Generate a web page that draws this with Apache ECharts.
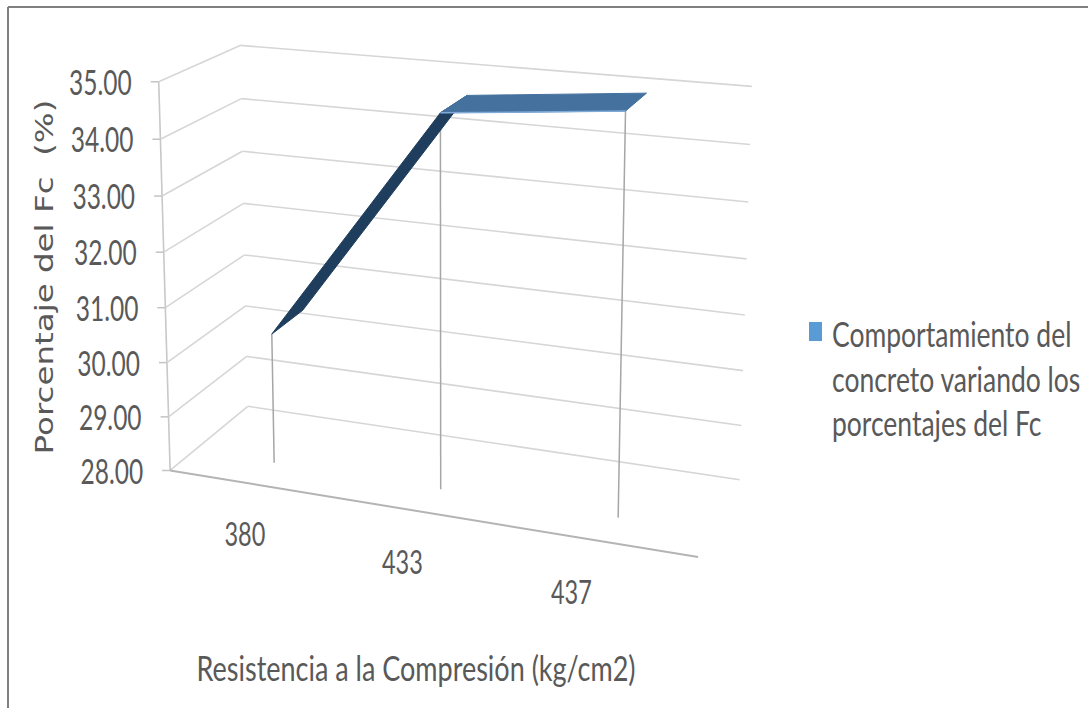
<!DOCTYPE html>
<html>
<head>
<meta charset="utf-8">
<script src="https://cdn.jsdelivr.net/npm/echarts@6.0.0/dist/echarts.min.js"></script>
<style>
html,body{margin:0;padding:0;background:#fff;}
#chart{width:1088px;height:708px;}
</style>
</head>
<body>
<div id="chart"></div>
<script>
// ---------- data ----------
const categories = ['380', '433', '437'];
const values = [30.4, 34.65, 34.95];
const yTicks = [28, 29, 30, 31, 32, 33, 34, 35];
const yMin = 28, yMax = 35, yInterval = 1;
const seriesName = 'Comportamiento del concreto variando los porcentajes del Fc';
const legendLines = ['Comportamiento del', 'concreto variando los', 'porcentajes del Fc'];
const xTitle = 'Resistencia a la Compresión (kg/cm2)';
const yTitle = 'Porcentaje del Fc  (%)';

// ---------- 3D box layout (screen calibration of the plot box corners) ----------
const FL_Y = [470, 416, 363, 307, 253, 197, 138, 82];   // front-left edge
const BL_Y = [406, 357, 307, 255, 203, 152, 98, 45];    // back-left edge
const BR_Y = [480, 425, 370, 315, 258, 202, 145, 87];   // back-right edge
const BR_X = [740, 741, 743, 745, 747, 748, 750, 752];
const FRB = [698, 558];                                 // front-right-bottom corner
const W0 = 0.30, W1 = 0.72;                            // ribbon depth range

function fitProjection() {
  const pts = [];
  for (let k = 0; k < 8; k++) {
    const v = k / 7;
    pts.push([0, v, 0, 170 - 11 * v, FL_Y[k]]);
    pts.push([0, v, 1, 248 - 8 * v, BL_Y[k]]);
    pts.push([1, v, 1, BR_X[k], BR_Y[k]]);
  }
  pts.push([1, 0, 0, FRB[0], FRB[1]]);
  const n = 11;
  const M = [];
  for (let i = 0; i < n; i++) M.push(new Array(n + 1).fill(0));
  const addRow = (row, rhs) => {
    for (let i = 0; i < n; i++) {
      for (let j = 0; j < n; j++) M[i][j] += row[i] * row[j];
      M[i][n] += row[i] * rhs;
    }
  };
  pts.forEach(([X, Y, Z, x, y]) => {
    addRow([X, Y, Z, 1, 0, 0, 0, 0, -x * X, -x * Y, -x * Z], x);
    addRow([0, 0, 0, 0, X, Y, Z, 1, -y * X, -y * Y, -y * Z], y);
  });
  for (let c = 0; c < n; c++) {
    let piv = c;
    for (let r = c + 1; r < n; r++) if (Math.abs(M[r][c]) > Math.abs(M[piv][c])) piv = r;
    const tmp = M[c]; M[c] = M[piv]; M[piv] = tmp;
    for (let r = 0; r < n; r++) {
      if (r === c) continue;
      const f = M[r][c] / M[c][c];
      for (let k = c; k <= n; k++) M[r][k] -= f * M[c][k];
    }
  }
  return M.map((row, i) => row[n] / row[i]);
}
const PM = fitProjection();
function P(X, Y, Z) {
  const w = PM[8] * X + PM[9] * Y + PM[10] * Z + 1;
  return [(PM[0] * X + PM[1] * Y + PM[2] * Z + PM[3]) / w,
          (PM[4] * X + PM[5] * Y + PM[6] * Z + PM[7]) / w];
}
function toUV(cs, pt) {
  return [(pt[0] - cs.x) / cs.width, (cs.y + cs.height - pt[1]) / cs.height];
}
function seg(a, b, color, width, z2) {
  return { type: 'line', z2: z2 || 0, shape: { x1: a[0], y1: a[1], x2: b[0], y2: b[1] },
           style: { stroke: color, lineWidth: width } };
}

const TEXT = '#595959';
const FONT = 'Lato, "Open Sans", sans-serif';
const SY = 1.4;

const chart = echarts.init(document.getElementById('chart'), null, { renderer: 'svg' });
chart.setOption({
  animation: false,
  backgroundColor: '#ffffff',
  grid: { left: 100, right: 100, top: 100, bottom: 100 },
  xAxis: { type: 'category', data: categories, show: false, boundaryGap: true },
  yAxis: { type: 'value', min: yMin, max: yMax, interval: yInterval, show: false },
  graphic: [
    { type: 'line', shape: { x1: 8, y1: 7, x2: 1088, y2: 7 }, style: { stroke: '#808080', lineWidth: 2 } },
    { type: 'line', shape: { x1: 8, y1: 7, x2: 8, y2: 708 }, style: { stroke: '#808080', lineWidth: 2 } },
    { type: 'rect', shape: { x: 809, y: 322, width: 13, height: 19 }, style: { fill: '#5b9bd5' } },
    { type: 'text', x: 832, y: 378, scaleY: 1.32,
      style: { text: legendLines.join('\n'), font: '26.5px ' + FONT, fill: TEXT, lineHeight: 34,
               align: 'left', verticalAlign: 'middle' } },
    { type: 'text', x: 416, y: 668, scaleY: 1.28,
      style: { text: xTitle, font: '27px ' + FONT, fill: TEXT, align: 'center', verticalAlign: 'middle' } },
    { type: 'text', x: 44, y: 277, rotation: Math.PI / 2, scaleX: 1.3,
      style: { text: yTitle, font: '25px "DejaVu Sans", sans-serif', fill: TEXT, align: 'center', verticalAlign: 'middle' } }
  ],
  series: [
    {
      type: 'custom',
      name: 'frame',
      silent: true,
      z: 1,
      data: yTicks.map(t => [0, t]),
      renderItem(params, api) {
        const cs = params.coordSys;
        const t = api.value(1);
        const uv = toUV(cs, api.coord([0, t]));
        const v = uv[1];
        const a = P(0, v, 0), b = P(0, v, 1), d = P(1, v, 1);
        const children = [
          seg(a, b, '#d6d6d6', 1.6),
          seg(b, d, '#d6d6d6', 1.6),
          seg([a[0] - 8, a[1]], a, '#c4c4c4', 1.5),
          { type: 'text', x: a[0] - 27, y: a[1], scaleY: SY,
            style: { text: t.toFixed(2), font: '24.5px ' + FONT, fill: TEXT, align: 'right', verticalAlign: 'middle' } }
        ];
        if (params.dataIndex === 0) {
          children.push(seg(P(0, 0, 0), P(0, 1, 0), '#c8c8c8', 1.6));
          children.push(seg(P(0, 0, 0), P(1, 0, 0), '#b4b4b4', 2));
        }
        return { type: 'group', children };
      }
    },
    {
      type: 'custom',
      name: seriesName,
      z: 2,
      data: values.map((val, i) => [i, val]),
      renderItem(params, api) {
        const cs = params.coordSys;
        const i = params.dataIndex;
        const uv = toUV(cs, api.coord([i, api.value(1)]));
        const u = uv[0], v = uv[1];
        const top = P(u, v, W0), bot = P(u, 0, W0);
        const children = [seg(top, bot, '#a6a6a6', 1.5, 1)];
        const f = P(u, 0, 0);
        children.push({ type: 'text', x: f[0] - 37.5 * u, y: f[1] + 50, scaleY: SY,
          style: { text: categories[i], font: '23.5px ' + FONT, fill: TEXT, align: 'center', verticalAlign: 'middle' } });
        if (i < values.length - 1) {
          const uv2 = toUV(cs, api.coord([i + 1, values[i + 1]]));
          const q = [P(u, v, W0), P(uv2[0], uv2[1], W0), P(uv2[0], uv2[1], W1), P(u, v, W1)];
          const e = [q[1][0] - q[0][0], q[1][1] - q[0][1]];
          const g = [q[3][0] - q[0][0], q[3][1] - q[0][1]];
          const cross = e[0] * g[1] - e[1] * g[0];
          const topVisible = cross < 0;
          children.push({ type: 'polygon', z2: 5, shape: { points: q },
            style: { fill: topVisible ? '#44719e' : '#1f3d5c', stroke: topVisible ? '#44719e' : '#1f3d5c', lineWidth: 1 } });
          if (topVisible) {
            children.push(seg(q[0], q[1], '#7fa9d6', 1.5, 6));
          }
        }
        return { type: 'group', children };
      }
    }
  ]
});
</script>
</body>
</html>
